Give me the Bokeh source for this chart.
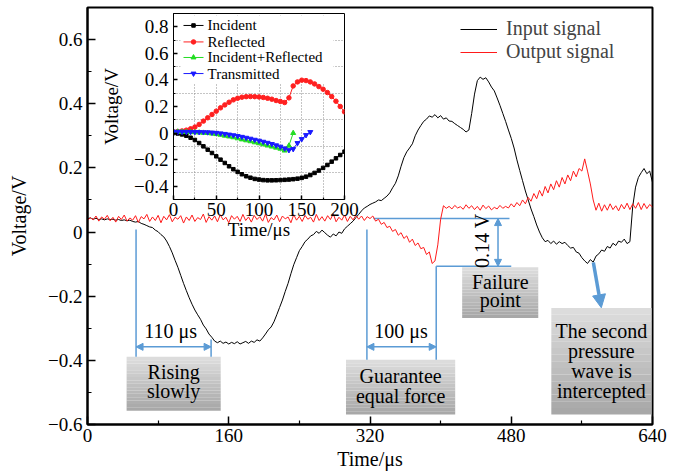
import numpy as np
from bokeh.plotting import figure
from bokeh.models import (FixedTicker, CustomJSTickFormatter, Legend, LegendItem,
                          Arrow, NormalHead, Range1d)
from bokeh.layouts import column
from bokeh.embed import file_html
from bokeh.resources import INLINE
from bokeh.core.properties import value

FONT = "Liberation Serif"      # axes / main legend
TFONT = "Times New Roman"      # text glyphs (resolves to the metric-compatible serif)
BLUE = "#5b9bd5"

# ---------------- main chart data ----------------
main_t = [round(3.2 * k, 1) for k in range(201)]  # sample times (us)

input_signal = [
    0.042, 0.044, 0.040, 0.043, 0.039, 0.041, 0.038, 0.041, 0.039, 0.040,
    0.037, 0.039, 0.036, 0.038, 0.035, 0.037, 0.033, 0.031, 0.033, 0.027,
    0.024, 0.020, 0.016, 0.014, 0.006, 0.001, -0.008, -0.015, -0.028, -0.045,
    -0.065, -0.088, -0.110, -0.135, -0.160, -0.183, -0.205, -0.225, -0.243, -0.258,
    -0.272, -0.290, -0.302, -0.318, -0.328, -0.340, -0.345, -0.340, -0.347, -0.343,
    -0.349, -0.344, -0.348, -0.342, -0.349, -0.345, -0.341, -0.347, -0.340, -0.344,
    -0.336, -0.340, -0.330, -0.318, -0.305, -0.296, -0.280, -0.258, -0.235, -0.212,
    -0.185, -0.160, -0.130, -0.102, -0.080, -0.058, -0.045, -0.030, -0.022, -0.012,
    -0.008, 0.002, -0.004, 0.006, -0.002, -0.010, -0.016, -0.006, -0.012, 0.000,
    -0.004, 0.010, 0.018, 0.026, 0.034, 0.045, 0.055, 0.066, 0.075, 0.080,
    0.086, 0.090, 0.094, 0.100, 0.098, 0.105, 0.112, 0.122, 0.138, 0.152,
    0.175, 0.205, 0.232, 0.250, 0.262, 0.275, 0.300, 0.318, 0.332, 0.345,
    0.352, 0.362, 0.358, 0.366, 0.356, 0.363, 0.352, 0.356, 0.346, 0.345,
    0.338, 0.332, 0.326, 0.320, 0.312, 0.318, 0.370, 0.430, 0.472, 0.483,
    0.476, 0.481, 0.468, 0.452, 0.440, 0.418, 0.395, 0.370, 0.345, 0.318,
    0.292, 0.262, 0.225, 0.192, 0.160, 0.128, 0.100, 0.072, 0.048, 0.022,
    0.000, -0.018, -0.030, -0.026, -0.036, -0.028, -0.038, -0.030, -0.036, -0.032,
    -0.042, -0.050, -0.048, -0.062, -0.066, -0.080, -0.090, -0.098, -0.086, -0.094,
    -0.075, -0.068, -0.056, -0.060, -0.045, -0.050, -0.035, -0.042, -0.028, -0.032,
    -0.022, -0.036, -0.030, 0.080, 0.140, 0.170, 0.185, 0.198, 0.182, 0.190,
    0.155,
]

output_signal = [
    0.036, 0.045, 0.038, 0.050, 0.034, 0.047, 0.040, 0.052, 0.035, 0.046,
    0.031, 0.049, 0.039, 0.053, 0.034, 0.044, 0.037, 0.051, 0.030, 0.048,
    0.041, 0.055, 0.033, 0.047, 0.036, 0.052, 0.029, 0.049, 0.038, 0.054,
    0.032, 0.046, 0.040, 0.051, 0.028, 0.047, 0.036, 0.053, 0.033, 0.045,
    0.039, 0.056, 0.030, 0.048, 0.037, 0.050, 0.032, 0.054, 0.038, 0.046,
    0.029, 0.051, 0.040, 0.049, 0.033, 0.055, 0.036, 0.047, 0.031, 0.052,
    0.039, 0.048, 0.034, 0.056, 0.030, 0.045, 0.038, 0.053, 0.032, 0.050,
    0.041, 0.047, 0.029, 0.054, 0.037, 0.049, 0.033, 0.052, 0.040, 0.046,
    0.031, 0.055, 0.036, 0.048, 0.034, 0.051, 0.039, 0.057, 0.032, 0.046,
    0.037, 0.053, 0.033, 0.049, 0.038, 0.052, 0.040, 0.050, 0.036, 0.048,
    0.042, 0.050, 0.034, 0.040, 0.024, 0.030, 0.014, 0.018, 0.002, 0.008,
    -0.010, -0.002, -0.020, -0.012, -0.032, -0.022, -0.042, -0.034, -0.052, -0.048,
    -0.070, -0.062, -0.098, -0.090, -0.040, 0.040, 0.082, 0.074, 0.080, 0.072,
    0.083, 0.075, 0.079, 0.071, 0.085, 0.074, 0.082, 0.070, 0.080, 0.068,
    0.084, 0.073, 0.081, 0.069, 0.077, 0.072, 0.083, 0.074, 0.080, 0.075,
    0.088, 0.078, 0.092, 0.082, 0.100, 0.088, 0.108, 0.096, 0.120, 0.104,
    0.130, 0.112, 0.142, 0.122, 0.150, 0.132, 0.160, 0.140, 0.170, 0.150,
    0.178, 0.160, 0.190, 0.172, 0.198, 0.190, 0.228, 0.190, 0.150, 0.100,
    0.068, 0.090, 0.065, 0.085, 0.068, 0.088, 0.070, 0.082, 0.066, 0.086,
    0.072, 0.090, 0.070, 0.088, 0.074, 0.092, 0.070, 0.089, 0.073, 0.086,
    0.078,
]

# ---------------- inset data ----------------
inset_t = list(range(0, 205, 5))
incident = [
    0.000, -0.003, -0.010, -0.020, -0.035, -0.052, -0.075, -0.100, -0.125, -0.150,
    -0.175, -0.200, -0.225, -0.250, -0.272, -0.292, -0.310, -0.325, -0.336, -0.345,
    -0.350, -0.354, -0.356, -0.356, -0.355, -0.354, -0.352, -0.350, -0.347, -0.343,
    -0.337, -0.328, -0.316, -0.300, -0.282, -0.262, -0.240, -0.215, -0.190, -0.165,
    -0.140,
]
reflected = [
    0.010, 0.012, 0.016, 0.022, 0.032, 0.045, 0.065, 0.090, 0.115, 0.140,
    0.165, 0.190, 0.212, 0.232, 0.250, 0.262, 0.270, 0.274, 0.275, 0.274,
    0.272, 0.268, 0.262, 0.255, 0.245, 0.238, 0.230, 0.265, 0.355, 0.385,
    0.398, 0.395, 0.385, 0.370, 0.350, 0.330, 0.305, 0.275, 0.240, 0.200,
    0.160,
]
sum_t = list(range(0, 145, 5))
inc_plus_ref = [
    0.010, 0.010, 0.008, 0.008, 0.007, 0.006, 0.004, 0.002, 0.000, -0.004,
    -0.008, -0.013, -0.020, -0.026, -0.032, -0.040, -0.048, -0.055, -0.062, -0.070,
    -0.077, -0.085, -0.094, -0.102, -0.110, -0.118, -0.132, -0.095, 0.000,
]
trans_t = list(range(0, 165, 5))
transmitted = [
    0.010, 0.010, 0.010, 0.009, 0.009, 0.008, 0.008, 0.007, 0.006, 0.004,
    0.002, -0.002, -0.006, -0.011, -0.016, -0.022, -0.028, -0.035, -0.042, -0.050,
    -0.057, -0.065, -0.073, -0.082, -0.092, -0.102, -0.115, -0.128, -0.120, -0.075,
    -0.045, -0.015, 0.008,
]

inset_names = ["Incident", "Reflected", "Incident+Reflected", "Transmitted"]
inset_colors = ["black", "#ff2020", "#22dd22", "#1a1aff"]
inset_markers = ["square", "circle", "triangle", "inverted_triangle"]
inset_sizes = [3.5, 4.5, 5, 5]

main_xticks = [0, 160, 320, 480, 640]
main_yticks = [-0.6, -0.4, -0.2, 0, 0.2, 0.4, 0.6]
inset_xticks = [0, 50, 100, 150, 200]
inset_yticks = [-0.4, -0.2, 0, 0.2, 0.4, 0.6, 0.8]

# annotation geometry (data coordinates)
guide_x0 = [55, 140, 316.5, 395, 324, 395]
guide_y0 = [0.008, -0.335, 0.008, -0.107, 0.042, -0.107]
guide_x1 = [55, 140, 316.5, 395, 478, 480]
guide_y1 = [-0.389, -0.389, -0.398, -0.398, 0.042, -0.107]

boxes = [  # left, right, top, bottom, lines, line y positions
    (44.3, 150.9, -0.389, -0.557, ["Rising", "slowly"], [-0.436, -0.495]),
    (292.8, 416.5, -0.398, -0.569, ["Guarantee", "equal force"], [-0.448, -0.510]),
    (424.4, 510.6, -0.110, -0.268, ["Failure", "point"], [-0.157, -0.212]),
    (525.4, 638.9, -0.237, -0.569, ["The second", "pressure", "wave is", "intercepted"],
     [-0.308, -0.370, -0.433, -0.495]),
]

fmt_code = """
if (Math.abs(tick) < 1e-9) { return "0"; }
const s = Math.abs(tick).toFixed(1);
return tick < 0 ? "\u2212" + s : s;
"""


def style_axes(fig, tick_in, minor_in, label_size, title_size, width):
    for ax in list(fig.xaxis) + list(fig.yaxis):
        ax.major_tick_in = tick_in
        ax.major_tick_out = 0
        ax.minor_tick_in = minor_in
        ax.minor_tick_out = 0
        ax.major_tick_line_width = 1.5
        ax.minor_tick_line_width = 1.2
        ax.axis_line_width = width
        ax.axis_line_color = "black"
        ax.major_tick_line_color = "black"
        ax.minor_tick_line_color = "black"
        ax.major_label_text_font = FONT
        ax.major_label_text_font_size = label_size
        ax.major_label_text_color = "black"
        ax.axis_label_text_font = FONT
        ax.axis_label_text_font_size = title_size
        ax.axis_label_text_font_style = "normal"
        ax.axis_label_text_color = "black"


# ---------------- main figure ----------------
p = figure(width=676, height=476, x_range=Range1d(0, 640), y_range=Range1d(-0.6, 0.7),
           output_backend="svg", toolbar_location=None,
           min_border_left=87, min_border_right=24, min_border_top=7, min_border_bottom=52)
p.xgrid.visible = False
p.ygrid.visible = False
p.outline_line_color = "black"
p.outline_line_width = 2
p.background_fill_color = "white"
p.border_fill_color = "white"

p.xaxis.ticker = FixedTicker(ticks=main_xticks, minor_ticks=[80, 240, 400, 560])
p.yaxis.ticker = FixedTicker(ticks=main_yticks, minor_ticks=[-0.5, -0.3, -0.1, 0.1, 0.3, 0.5])
p.yaxis.formatter = CustomJSTickFormatter(code=fmt_code)
p.xaxis.axis_label = "Time/\u03bcs"
p.yaxis.axis_label = "Voltage/V"
style_axes(p, 8, 4, "19px", "20px", 2)
p.xaxis.major_label_standoff = 4
p.xaxis.axis_label_standoff = 3
p.yaxis.major_label_standoff = 5
p.yaxis.axis_label_standoff = 15

# gradient boxes
for (l, r, t, b, lines, ys) in boxes:
    n = 16
    tops, bots, cols = [], [], []
    for i in range(n):
        tops.append(t + (b - t) * i / n)
        bots.append(t + (b - t) * (i + 1) / n)
        g = int(round(220 - (220 - 168) * i / (n - 1)))
        cols.append("#%02x%02x%02x" % (g, g, g))
    p.quad(left=[l] * n, right=[r] * n, top=tops, bottom=bots, fill_color=cols,
           line_color=None)
    cx = (l + r) / 2
    p.text(x=[cx] * len(lines), y=ys, text=lines, text_font=value(TFONT),
           text_font_size="20px", text_align="center", text_baseline="middle",
           text_color="black")

# guide lines
p.segment(x0=guide_x0, y0=guide_y0, x1=guide_x1, y1=guide_y1, line_color=BLUE,
          line_width=1.5)

# curves
l_in = p.line(main_t, input_signal, line_color="black", line_width=1)
l_out = p.line(main_t, output_signal, line_color="#ff1a1a", line_width=1)

# double arrows
for (xs, ys, xe, ye) in [(55, -0.358, 140, -0.358), (316.5, -0.358, 395, -0.358),
                         (465, 0.042, 465, -0.107)]:
    p.add_layout(Arrow(x_start=xs, y_start=ys, x_end=xe, y_end=ye,
                       line_color=BLUE, line_width=1.5,
                       start=NormalHead(size=7, fill_color=BLUE, line_color=BLUE),
                       end=NormalHead(size=7, fill_color=BLUE, line_color=BLUE)))
# thick arrow
p.add_layout(Arrow(x_start=573, y_start=-0.095, x_end=582, y_end=-0.236,
                   line_color=BLUE, line_width=3.5,
                   end=NormalHead(size=13, fill_color=BLUE, line_color=BLUE)))

p.text(x=[94.2, 355.2], y=[-0.309, -0.309], text=["110 \u03bcs", "100 \u03bcs"],
       text_font=value(TFONT), text_font_size="20px", text_align="center",
       text_baseline="middle", text_color="black")
p.text(x=[447], y=[-0.027], text=["0.14 V"], angle=np.pi / 2,
       text_font=value(TFONT), text_font_size="20px",
       text_align="center", text_baseline="middle", text_color="black")

leg = Legend(items=[LegendItem(label="Input signal", renderers=[l_in]),
                    LegendItem(label="Output signal", renderers=[l_out])],
             location=(373, 361))
leg.border_line_alpha = 0
leg.background_fill_alpha = 0
leg.label_text_font = FONT
leg.label_text_font_size = "20px"
leg.glyph_width = 37
leg.glyph_height = 22
leg.label_height = 22
leg.label_standoff = 9
leg.spacing = 0
leg.padding = 0
leg.margin = 0
p.add_layout(leg)

# ---------------- inset figure ----------------
q = figure(width=282, height=236, x_range=Range1d(0, 200), y_range=Range1d(-0.5, 0.9),
           output_backend="svg", toolbar_location=None,
           min_border_left=87, min_border_right=24, min_border_top=2, min_border_bottom=48)
q.border_fill_alpha = 0
q.background_fill_color = "white"
q.outline_line_color = "black"
q.outline_line_width = 1
q.margin = (-465, 0, 0, 86)

q.xaxis.ticker = FixedTicker(ticks=inset_xticks, minor_ticks=[25, 75, 125, 175])
q.yaxis.ticker = FixedTicker(ticks=inset_yticks,
                             minor_ticks=[-0.5, -0.3, -0.1, 0.1, 0.3, 0.5, 0.7, 0.9])
q.yaxis.formatter = CustomJSTickFormatter(code=fmt_code)
q.xgrid.ticker = FixedTicker(ticks=[25, 50, 75, 100, 125, 150, 175])
q.ygrid.ticker = FixedTicker(ticks=[-0.3, -0.1, 0.1, 0.3, 0.5, 0.7])
for g in [q.xgrid[0], q.ygrid[0]]:
    g.grid_line_color = "#8a8a8a"
    g.grid_line_dash = "1 2"
    g.grid_line_width = 1
q.xaxis.axis_label = "Time/\u03bcs"
q.yaxis.axis_label = "Voltage/V"
style_axes(q, 4, 2, "19px", "19px", 1)
q.xaxis.major_label_standoff = 3
q.xaxis.axis_label_standoff = 0
q.yaxis.major_label_standoff = 5
q.yaxis.axis_label_standoff = 9

# legend backdrop (drawn first so curves pass over it, as in the original)
q.quad(left=[8.2], right=[187], top=[0.885], bottom=[0.375], fill_color="white",
       line_color=None)

series = [(inset_t, incident), (inset_t, reflected), (sum_t, inc_plus_ref),
          (trans_t, transmitted)]
for i, (xs, ys) in enumerate(series):
    q.line(xs, ys, line_color=inset_colors[i], line_width=1)
    q.scatter(xs, ys, marker=inset_markers[i], size=inset_sizes[i], color=inset_colors[i])

# inset legend (row positions in inset data units)
leg_rows = [0.810, 0.686, 0.569, 0.448]
q.segment(x0=[11.7] * 4, x1=[35.1] * 4, y0=leg_rows, y1=leg_rows,
          line_color=inset_colors, line_width=1)
for i in range(4):
    q.scatter([23.4], [leg_rows[i]], marker=inset_markers[i], size=inset_sizes[i],
              color=inset_colors[i])
q.text(x=[39.8] * 4, y=leg_rows, text=inset_names, text_font=value(TFONT),
       text_font_size="15px", text_align="left", text_baseline="middle",
       text_color="black")

layout = column(p, q)
open("out.html", "w").write(file_html(layout, INLINE))
